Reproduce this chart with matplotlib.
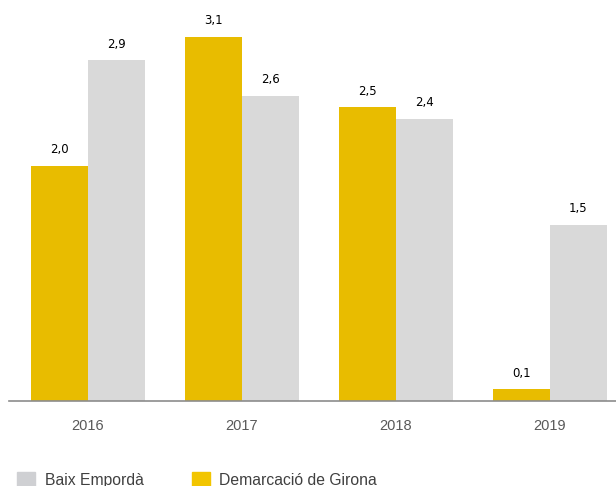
import matplotlib.pyplot as plt
import numpy as np
from matplotlib.patches import Rectangle

# dades
anys = ['2016', '2017', '2018', '2019']
girona = [2.0, 3.1, 2.5, 0.1]
baix_emporda = [2.9, 2.6, 2.4, 1.5]

groc = '#e8bc00'
gris = '#d9d9d9'

fig = plt.figure(figsize=(6.16, 4.86), dpi=100)
ax = fig.add_axes([9 / 616, 85 / 486, 607 / 616, 401 / 486])

x = np.arange(len(anys))
amplada = 0.37
b1 = ax.bar(x - amplada / 2, girona, amplada, color=groc)
b2 = ax.bar(x + amplada / 2, baix_emporda, amplada, color=gris)

for barres, valors in [(b1, girona), (b2, baix_emporda)]:
    for barra, v in zip(barres, valors):
        ax.annotate(f'{v:.1f}'.replace('.', ','),
                    (barra.get_x() + barra.get_width() / 2, v),
                    xytext=(0, 7), textcoords='offset points',
                    ha='center', va='bottom', fontsize=8.5, color='black')

ax.set_xlim(-0.513, 3.43)
ax.set_ylim(0, 3.413)
ax.set_xticks(x)
ax.set_xticklabels(anys, fontsize=10.5, color='#595959', family='Liberation Sans')
ax.tick_params(axis='x', length=0, pad=13)
ax.set_yticks([])
for s in ['top', 'right', 'left']:
    ax.spines[s].set_visible(False)
ax.spines['bottom'].set_color('#8c8c8c')
ax.spines['bottom'].set_linewidth(1.2)

# llegenda (tallada a baix com a l'original)
fig.add_artist(Rectangle((17 / 616, 0), 18 / 616, 14 / 486,
                         transform=fig.transFigure, color='#cfd0d3', clip_on=False))
fig.text(45 / 616, 1.5 / 486, 'Baix Empordà', fontsize=11.3,
         family='Liberation Sans', color='#404040', va='baseline')
fig.add_artist(Rectangle((192 / 616, 0), 18 / 616, 14 / 486,
                         transform=fig.transFigure, color='#f2c500', clip_on=False))
fig.text(219 / 616, 1.5 / 486, 'Demarcació de Girona', fontsize=11.3,
         family='Liberation Sans', color='#404040', va='baseline')

fig.savefig('out.png', dpi=100)
